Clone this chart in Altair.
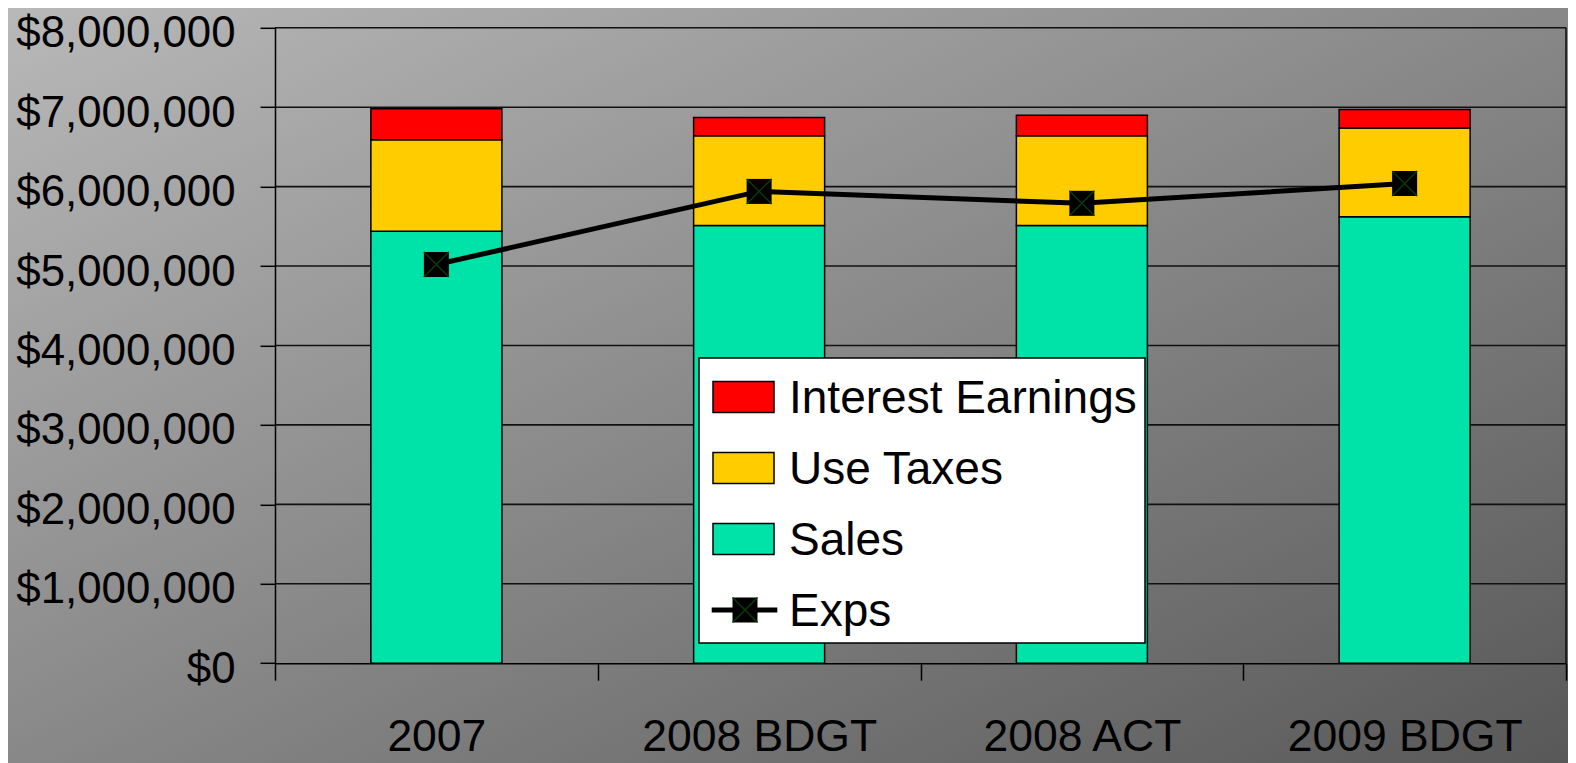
import altair as alt
import pandas as pd

categories = ["2007", "2008 BDGT", "2008 ACT", "2009 BDGT"]
series_names = ["Interest Earnings", "Use Taxes", "Sales", "Exps"]
series_colors = ["#ff0000", "#ffcc00", "#00e3a8", "#000000"]
sales = [5440000, 5510000, 5510000, 5620000]
use_taxes = [1150000, 1130000, 1130000, 1120000]
interest = [390000, 230000, 260000, 230000]
exps = [5020000, 5940000, 5790000, 6040000]
y_ticks = [0, 1000000, 2000000, 3000000, 4000000, 5000000, 6000000, 7000000, 8000000]

rows = []
for i, c in enumerate(categories):
    rows.append({"category": c, "series": "Sales", "value": sales[i], "stack_order": 0})
    rows.append({"category": c, "series": "Use Taxes", "value": use_taxes[i], "stack_order": 1})
    rows.append({"category": c, "series": "Interest Earnings", "value": interest[i], "stack_order": 2})
bars_df = pd.DataFrame(rows)
exps_df = pd.DataFrame({"category": categories, "value": exps})
grid_df = pd.DataFrame({"value": y_ticks[1:]})
legend_df = pd.DataFrame({"series": series_names, "i": list(range(len(series_names)))})
one = alt.Data(values=[{"a": 1}])

W, H = 1291, 635.4
PL, PT, PR, PB = 267, 19.8, 2, 99.8

FONT = "Liberation Sans"

gradient = {
    "gradient": "linear", "x1": 0, "y1": 0, "x2": 1, "y2": 1,
    "stops": [{"offset": 0, "color": "#b8b8b8"}, {"offset": 1, "color": "#585858"}],
}

bg = alt.Chart(one).mark_rect(fill=gradient, clip=False).encode(
    x=alt.value(-PL), x2=alt.value(W + PR), y=alt.value(-PT), y2=alt.value(H + PB)
)

x_scale = alt.Scale(domain=categories, paddingInner=0, paddingOuter=0)
y_scale = alt.Scale(domain=[0, 8000000], nice=False)
color_scale = alt.Scale(domain=series_names, range=series_colors)

grid = alt.Chart(grid_df).mark_rule(color="#111111", strokeWidth=1.6).encode(
    y=alt.Y("value:Q", scale=y_scale)
)

border = alt.Chart(one).mark_rule(color="#111111", strokeWidth=1.6).encode(
    x=alt.value(W), y=alt.value(0), y2=alt.value(H)
)

bars = alt.Chart(bars_df).mark_bar(size=131, stroke="black", strokeWidth=1.5).encode(
    x=alt.X("category:N", sort=categories, scale=x_scale,
            axis=alt.Axis(title=None, labelAngle=0, tickBand="extent", labelFont=FONT,
                          labelFontSize=44.5, labelColor="black", labelLimit=600, tickSize=17,
                          tickColor="black", tickWidth=1.5, domainColor="black", domainWidth=1.5,
                          labelPadding=35, grid=False, zindex=1)),
    y=alt.Y("value:Q", stack="zero", scale=y_scale,
            axis=alt.Axis(title=None, values=y_ticks, format="$,.0f", labelFont=FONT,
                          labelFontSize=43.8, labelColor="black", labelLimit=600, tickSize=15,
                          tickColor="black", tickWidth=1.5, domainColor="black", domainWidth=1.5,
                          labelPadding=25, labelOffset=6, grid=False, zindex=1)),
    color=alt.Color("series:N", scale=color_scale, legend=None),
    order=alt.Order("stack_order:Q"),
)

line = alt.Chart(exps_df).mark_line(color="black", strokeWidth=5).encode(
    x=alt.X("category:N", sort=categories, scale=x_scale),
    y=alt.Y("value:Q", scale=y_scale),
)
pts = alt.Chart(exps_df).mark_point(shape="square", filled=True, color="black", opacity=1, size=625).encode(
    x=alt.X("category:N", sort=categories, scale=x_scale),
    y=alt.Y("value:Q", scale=y_scale),
)
xs = alt.Chart(exps_df).mark_point(shape="M-1,-1L1,1M-1,1L1,-1", filled=False, stroke="#0a3a0a",
                                   strokeWidth=1.5, opacity=1, size=625).encode(
    x=alt.X("category:N", sort=categories, scale=x_scale),
    y=alt.Y("value:Q", scale=y_scale),
)

# legend (drawn as marks)
LX0, LX1, LY0, LY1 = 424, 870, 330.2, 615.2
ROW0, ROWSTEP = 369.2, 71
row_y = f"{ROW0} + datum.i * {ROWSTEP}"

leg_box = alt.Chart(one).mark_rect(fill="white", stroke="black", strokeWidth=1.5).encode(
    x=alt.value(LX0), x2=alt.value(LX1), y=alt.value(LY0), y2=alt.value(LY1)
)
leg_sw = alt.Chart(legend_df).transform_filter("datum.series !== 'Exps'").mark_rect(
    stroke="black", strokeWidth=1.5).encode(
    x=alt.value(438), x2=alt.value(499),
    y=alt.value({"expr": row_y + " - 15.5"}), y2=alt.value({"expr": row_y + " + 15.5"}),
    color=alt.Color("series:N", scale=color_scale, legend=None),
)
leg_txt = alt.Chart(legend_df).mark_text(align="left", baseline="middle", font=FONT,
                                         fontSize=46, color="black").encode(
    x=alt.value(514), y=alt.value({"expr": row_y + " + 2"}), text="series:N"
)
leg_exps = legend_df[legend_df["series"] == "Exps"]
leg_line = alt.Chart(leg_exps).mark_rule(color="black", strokeWidth=5).encode(
    x=alt.value(436.7), x2=alt.value(502.3), y=alt.value({"expr": row_y})
)
leg_sq = alt.Chart(leg_exps).mark_point(shape="square", filled=True, color="black", opacity=1,
                                        size=625).encode(
    x=alt.value(470), y=alt.value({"expr": row_y})
)
leg_x = alt.Chart(leg_exps).mark_point(shape="M-1,-1L1,1M-1,1L1,-1", filled=False, stroke="#0a3a0a",
                                       strokeWidth=1.5, opacity=1, size=625).encode(
    x=alt.value(470), y=alt.value({"expr": row_y})
)

chart = alt.layer(bg, grid, bars, line, pts, xs, border,
                  leg_box, leg_sw, leg_txt, leg_line, leg_sq, leg_x).properties(
    width=W, height=H,
    padding={"left": PL, "top": PT, "right": PR, "bottom": PB},
    autosize=alt.AutoSizeParams(type="none"),
).configure(font=FONT).configure_view(stroke=None)

chart.save("out.html", embed_options={"renderer": "svg", "actions": False})
